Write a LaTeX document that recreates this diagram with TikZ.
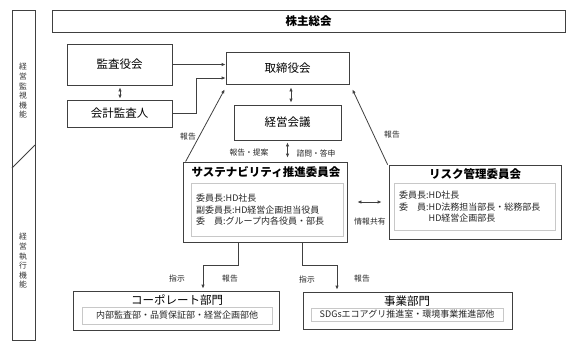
\documentclass[tikz,border=0pt]{standalone}
\usepackage{fontspec}
\setmainfont{Noto Sans CJK JP}
\usetikzlibrary{arrows.meta}
\definecolor{ln}{HTML}{404040}
\definecolor{inln}{HTML}{C8C8C8}
\tikzset{
  box/.style={draw=ln, line width=0.8pt, rectangle, inner sep=0pt, align=center, font=\fontsize{11.5}{13}\selectfont},
  inbox/.style={draw=inln, line width=0.7pt, rectangle, inner sep=0pt},
  ttl/.style={inner sep=0pt, font=\fontsize{11.5}{13}\selectfont},
  bttl/.style={inner sep=0pt, font=\fontsize{11.5}{13}\selectfont\bfseries},
  lbl/.style={inner sep=0pt, font=\fontsize{7.8}{9}\selectfont, text=black!85},
  memb/.style={inner sep=0pt, align=left, anchor=west, font=\fontsize{9}{11.5}\selectfont, text=black!85},
  vlbl/.style={inner sep=0pt, align=center, font=\fontsize{7.8}{9.6}\selectfont, text=black!80},
  arr/.style={draw=ln, line width=0.8pt, -{Latex[length=4pt,width=3.5pt]}},
  dbl/.style={draw=ln, line width=0.8pt, {Latex[length=4pt,width=3.5pt]}-{Latex[length=4pt,width=3.5pt]}},
}
\begin{document}
\begin{tikzpicture}[x=1pt,y=-1pt]
\useasboundingbox (0,0) rectangle (573,346);
% left bar
\node[draw=ln, line width=0.8pt, minimum width=23pt, minimum height=330pt, inner sep=0pt] (bar) at (23.5,175) {};
\draw[ln, line width=0.8pt] (12,168) -- (35,145);
\node[vlbl] (v1) at (23,91) {経\\営\\監\\視\\機\\能};
\node[vlbl] (v2) at (23,261) {経\\営\\執\\行\\機\\能};
% top
\node[box, minimum width=513pt, minimum height=22pt, font=\fontsize{11.5}{13}\selectfont\bfseries] (share) at (308.5,21) {株主総会};
\node[box, minimum width=105pt, minimum height=41pt] (kansa) at (119.5,64.5) {監査役会};
\node[box, minimum width=105pt, minimum height=27pt] (kaikei) at (119.5,113.5) {会計監査人};
\node[box, minimum width=123pt, minimum height=32pt] (tori) at (287.5,68) {取締役会};
\node[box, minimum width=107pt, minimum height=35pt] (keiei) at (287.5,122.5) {経営会議};
% sustainability
\node[box, minimum width=164pt, minimum height=80pt] (sus) at (265,202) {};
\node[bttl] (sust) at (266,172.5) {サステナビリティ推進委員会};
\node[inbox, minimum width=152pt, minimum height=53pt] (susin) at (267,209.5) {};
\node[memb] (susm) at (196,210) {委員長:HD社長\\副委員長:HD経営企画担当役員\\委　員:グループ内各役員・部長};
% risk
\node[box, minimum width=172pt, minimum height=74pt] (risk) at (475,202) {};
\node[bttl] (riskt) at (475,174) {リスク管理委員会};
\node[inbox, minimum width=161pt, minimum height=47pt] (riskin) at (474.5,206.5) {};
\node[memb] (riskm) at (399,207) {委員長:HD社長\\委　員:HD法務担当部長・総務部長\\\phantom{委　員:}HD経営企画部長};
% bottom
\node[box, minimum width=206pt, minimum height=39pt] (corp) at (176,310.5) {};
\node[ttl] (corpt) at (177,300) {コーポレート部門};
\node[inbox, minimum width=190pt, minimum height=17pt, font=\fontsize{9}{11}\selectfont, text=black!85] (corpin) at (177,315.5) {内部監査部・品質保証部・経営企画部他};
\node[box, minimum width=209pt, minimum height=37pt] (biz) at (407.5,310.5) {};
\node[ttl] (bizt) at (407,301) {事業部門};
\node[inbox, minimum width=192pt, minimum height=13pt, font=\fontsize{9}{11}\selectfont, text=black!85] (bizin) at (407,314.5) {SDGsエコアグリ推進室・環境事業推進部他};
% connectors
\draw[arr] (kansa.east) -- (kansa.east -| tori.west);
\coordinate (k1) at (196,78);
\draw[arr] (kaikei.east) -| (k1) -- (k1 -| tori.west);
\draw[dbl, shorten <=2pt, shorten >=1pt] ([xshift=0.5pt]kansa.south) -- ([xshift=0.5pt]kaikei.north);
\draw[dbl, shorten <=3pt, shorten >=2pt] ([xshift=3.5pt]tori.south) -- ([xshift=3.5pt]keiei.north);
\draw[dbl, shorten <=2pt, shorten >=4pt] (keiei.south) -- (keiei.south |- sus.north);
\draw[arr] ([xshift=3pt]sus.north west) -- ([xshift=-1pt,yshift=-5pt]tori.south west);
\draw[arr] ([xshift=-1pt]risk.north west) -- ([xshift=3pt,yshift=-5pt]tori.south east);
\draw[dbl] ([xshift=10pt]sus.east) -- ([xshift=-7pt]risk.west);
\coordinate (c1) at (203,265);
\draw[arr, shorten >=2pt] ([xshift=-27pt]sus.south) |- (c1) -- (c1 |- corp.north);
\coordinate (c2) at (337,265);
\draw[arr, shorten >=2pt] ([xshift=37pt]sus.south) |- (c2) -- (c2 |- biz.north);
% labels
\node[lbl] (l1) at (188,137) {報告};
\node[lbl] (l2) at (392,135) {報告};
\node[lbl] (l3) at (249,153) {報告・提案};
\node[lbl] (l4) at (316,153) {諮問・答申};
\node[lbl] (l5) at (370,222) {情報共有};
\node[lbl] (l6) at (177,279) {指示};
\node[lbl] (l7) at (230,279) {報告};
\node[lbl] (l8) at (307,280) {指示};
\node[lbl] (l9) at (362,279) {報告};
\end{tikzpicture}
\end{document}
